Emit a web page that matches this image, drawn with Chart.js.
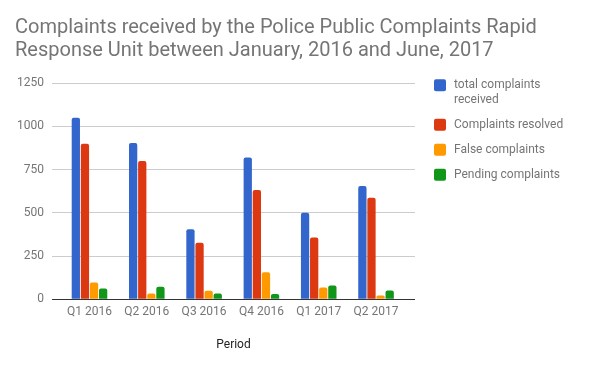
<!DOCTYPE html>
<html>
<head>
<meta charset="utf-8">
<script src="https://cdn.jsdelivr.net/npm/chart.js@4.4.1/dist/chart.umd.min.js"></script>
<style>
  html, body { margin: 0; padding: 0; background: #fff; }
</style>
</head>
<body>
<canvas id="chart" width="600" height="367"></canvas>
<script>
const periods = ["Q1 2016", "Q2 2016", "Q3 2016", "Q4 2016", "Q1 2017", "Q2 2017"];
const totalReceived = [1050, 905, 405, 820, 500, 655];
const resolved = [900, 800, 327, 632, 357, 587];
const falseComplaints = [97, 33, 49, 156, 68, 22];
const pending = [62, 72, 33, 30, 80, 51];
const seriesNames = ["total complaints received", "Complaints resolved", "False complaints", "Pending complaints"];
const seriesColors = ["#3366cc", "#dc3912", "#ff9900", "#109618"];

Chart.defaults.font.family = "Roboto";
Chart.defaults.font.size = 12;

// bars sit on a linear index axis so the plot can be wider than the groups
function points(values) {
    return values.map((v, i) => ({ x: i, y: v }));
}

const seriesData = [totalReceived, resolved, falseComplaints, pending];
const datasets = seriesData.map((vals, i) => ({
    label: seriesNames[i],
    data: points(vals),
    backgroundColor: seriesColors[i],
    borderRadius: 2,
    borderSkipped: "start",
    categoryPercentage: 0.635,
    barPercentage: 0.91
}));

// legend on the right, "total complaints received" wraps on two lines
const sideLegend = {
    id: "sideLegend",
    afterDraw(chart) {
        const ctx = chart.ctx;
        const x = chart.chartArea.right + 19;
        let y = chart.chartArea.top - 4;
        const lines = [["total complaints", "received"], ["Complaints resolved"], ["False complaints"], ["Pending complaints"]];
        ctx.save();
        ctx.font = "12px Roboto";
        ctx.textBaseline = "middle";
        lines.forEach((txt, i) => {
            ctx.fillStyle = seriesColors[i];
            ctx.beginPath();
            ctx.roundRect(x, y, 12, 12, 2);
            ctx.fill();
            ctx.fillStyle = "#757575";
            txt.forEach((t, j) => ctx.fillText(t, x + 20, y + 6 + j * 14.5));
            y += 25 + (txt.length - 1) * 14.5;
        });
        ctx.restore();
    }
};

new Chart(document.getElementById("chart"), {
    type: "bar",
    data: { datasets: datasets },
    plugins: [sideLegend],
    options: {
        responsive: false,
        animation: false,
        devicePixelRatio: 1,
        layout: { padding: { left: 15, right: 0, top: 0, bottom: 15 } },
        plugins: {
            legend: { display: false },
            tooltip: { enabled: false },
            title: {
                display: true,
                text: ["Complaints received by the Police Public Complaints Rapid", "Response Unit between January, 2016 and June, 2017"],
                align: "start",
                color: "#757575",
                font: { size: 20, weight: "normal", lineHeight: 1.17 },
                padding: { top: 16, bottom: 20.5 }
            }
        },
        scales: {
            x: {
                type: "linear",
                bounds: "data",
                offset: false,
                min: -0.654,
                max: 5.68,
                afterBuildTicks: s => { s.ticks = periods.map((p, i) => ({ value: i })); },
                ticks: {
                    callback: v => periods[v],
                    color: "#757575",
                    padding: 6,
                    autoSkip: false,
                    maxRotation: 0
                },
                grid: { display: false, drawTicks: false },
                border: { display: false },
                title: {
                    display: true,
                    text: "Period",
                    color: "#222",
                    padding: { top: 12, bottom: 0 }
                }
            },
            y: {
                min: 0,
                max: 1250,
                afterFit: s => { s.width = 37; },
                ticks: { stepSize: 250, color: "#757575", padding: 8, callback: v => String(v) },
                grid: {
                    color: c => c.tick.value === 0 ? "#333" : "#ccc",
                    drawTicks: false
                },
                border: { display: false }
            },
            // empty right-hand space that holds the legend
            legendSpace: {
                position: "right",
                grid: { display: false, drawTicks: false },
                ticks: { display: false },
                border: { display: false },
                afterFit: s => { s.width = 185; }
            }
        }
    }
});
</script>
</body>
</html>
